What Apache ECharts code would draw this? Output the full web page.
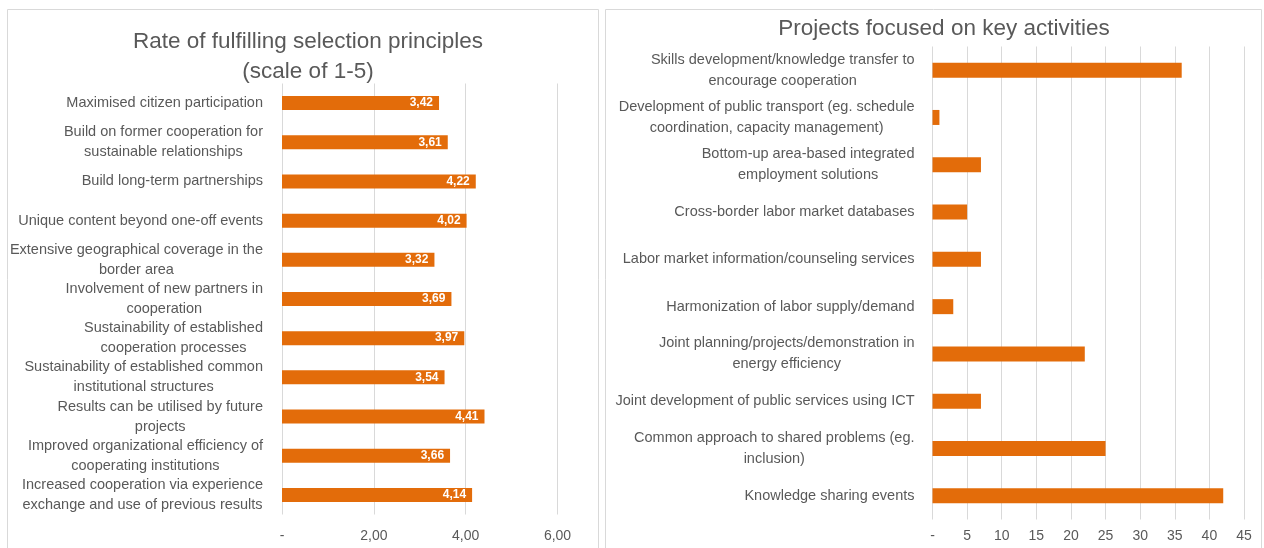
<!DOCTYPE html>
<html>
<head>
<meta charset="utf-8">
<script src="https://cdn.jsdelivr.net/npm/echarts@6/dist/echarts.min.js"></script>
<style>
    html, body { margin: 0; padding: 0; background: #fff; }
    #chart { width: 1264px; height: 548px; }
</style>
</head>
<body>
<div id="chart"></div>
<script>
// left chart: rate of fulfilling selection principles
const principleNames = [
    'Maximised citizen participation',
    'Build on former cooperation for\nsustainable relationships',
    'Build long-term partnerships',
    'Unique content beyond one-off events',
    'Extensive geographical coverage in the\nborder area',
    'Involvement of new partners in\ncooperation',
    'Sustainability of established\ncooperation processes',
    'Sustainability of established common\ninstitutional structures',
    'Results can be utilised by future\nprojects',
    'Improved organizational efficiency of\ncooperating institutions',
    'Increased cooperation via experience\nexchange and use of previous results'
];
const principleRates = [3.42, 3.61, 4.22, 4.02, 3.32, 3.69, 3.97, 3.54, 4.41, 3.66, 4.14];

// right chart: projects focused on key activities
const activityNames = [
    'Skills development/knowledge transfer to\nencourage cooperation',
    'Development of public transport (eg. schedule\ncoordination, capacity management)',
    'Bottom-up area-based integrated\nemployment solutions',
    'Cross-border labor market databases',
    'Labor market information/counseling services',
    'Harmonization of labor supply/demand',
    'Joint planning/projects/demonstration in\nenergy efficiency',
    'Joint development of public services using ICT',
    'Common approach to shared problems (eg.\ninclusion)',
    'Knowledge sharing events'
];
const activityCounts = [36, 1, 7, 5, 7, 3, 22, 7, 25, 42];

const textColor = '#595959';
const gridColor = '#d9d9d9';
const barColor = '#e36c0a';
const fontFamily = '"Liberation Sans", Arial, sans-serif';

// wrapped labels: each line centred inside the right-aligned block
const centredLines = v => v.split('\n').map(l => '{c|' + l + '}').join('\n');

const chart = echarts.init(document.getElementById('chart'));

const option = {
    animation: false,
    textStyle: { fontFamily: fontFamily },
    graphic: [
        {
            type: 'rect',
            shape: { x: 7.5, y: 9.5, width: 591, height: 560 },
            style: { fill: 'none', stroke: gridColor, lineWidth: 1 },
            z: -10
        },
        {
            type: 'rect',
            shape: { x: 605.5, y: 9.5, width: 656, height: 560 },
            style: { fill: 'none', stroke: gridColor, lineWidth: 1 },
            z: -10
        }
    ],
    title: [
        {
            text: 'Rate of fulfilling selection principles\n(scale of 1-5)',
            left: 303,
            top: 22,
            textAlign: 'center',
            textStyle: { color: textColor, fontSize: 22.5, fontWeight: 'normal', lineHeight: 30 }
        },
        {
            text: 'Projects focused on key activities',
            left: 939,
            top: 12,
            textAlign: 'center',
            textStyle: { color: textColor, fontSize: 22.5, fontWeight: 'normal' }
        }
    ],
    grid: [
        { left: 282, width: 275.5, top: 83.5, height: 431, outerBoundsMode: 'none' },
        { left: 932.5, width: 311.5, top: 46.5, height: 473, outerBoundsMode: 'none' }
    ],
    xAxis: [
        {
            type: 'value',
            gridIndex: 0,
            min: 0,
            max: 6,
            interval: 2,
            axisLine: { show: false },
            axisTick: { show: false },
            splitLine: { lineStyle: { color: gridColor } },
            axisLabel: {
                color: textColor,
                fontSize: 14,
                margin: 15,
                formatter: v => v === 0 ? '-' : v.toFixed(2).replace('.', ',')
            }
        },
        {
            type: 'value',
            gridIndex: 1,
            min: 0,
            max: 45,
            interval: 5,
            axisLine: { show: false },
            axisTick: { show: false },
            splitLine: { lineStyle: { color: gridColor } },
            axisLabel: {
                color: textColor,
                fontSize: 14,
                margin: 10,
                formatter: v => v === 0 ? '-' : String(v)
            }
        }
    ],
    yAxis: [
        {
            type: 'category',
            gridIndex: 0,
            inverse: true,
            data: principleNames,
            axisLine: { show: false },
            axisTick: { show: false },
            axisLabel: {
                interval: 0,
                color: textColor,
                fontSize: 14.5,
                margin: 19,
                lineHeight: 20,
                formatter: centredLines,
                rich: { c: { align: 'center', color: textColor, fontSize: 14.5, lineHeight: 20 } }
            }
        },
        {
            type: 'category',
            gridIndex: 1,
            inverse: true,
            data: activityNames,
            axisLine: { show: false },
            axisTick: { show: false },
            axisLabel: {
                interval: 0,
                color: textColor,
                fontSize: 14.5,
                margin: 18,
                lineHeight: 21,
                formatter: centredLines,
                rich: { c: { align: 'center', color: textColor, fontSize: 14.5, lineHeight: 21 } }
            }
        }
    ],
    series: [
        {
            type: 'bar',
            xAxisIndex: 0,
            yAxisIndex: 0,
            data: principleRates,
            barWidth: 14,
            itemStyle: { color: barColor },
            label: {
                show: true,
                position: 'insideRight',
                distance: 6,
                color: '#fff',
                fontSize: 12,
                fontWeight: 'bold',
                formatter: p => p.value.toFixed(2).replace('.', ',')
            }
        },
        {
            type: 'bar',
            xAxisIndex: 1,
            yAxisIndex: 1,
            data: activityCounts,
            barWidth: 15,
            itemStyle: { color: barColor }
        }
    ]
};

chart.setOption(option);
</script>
</body>
</html>
